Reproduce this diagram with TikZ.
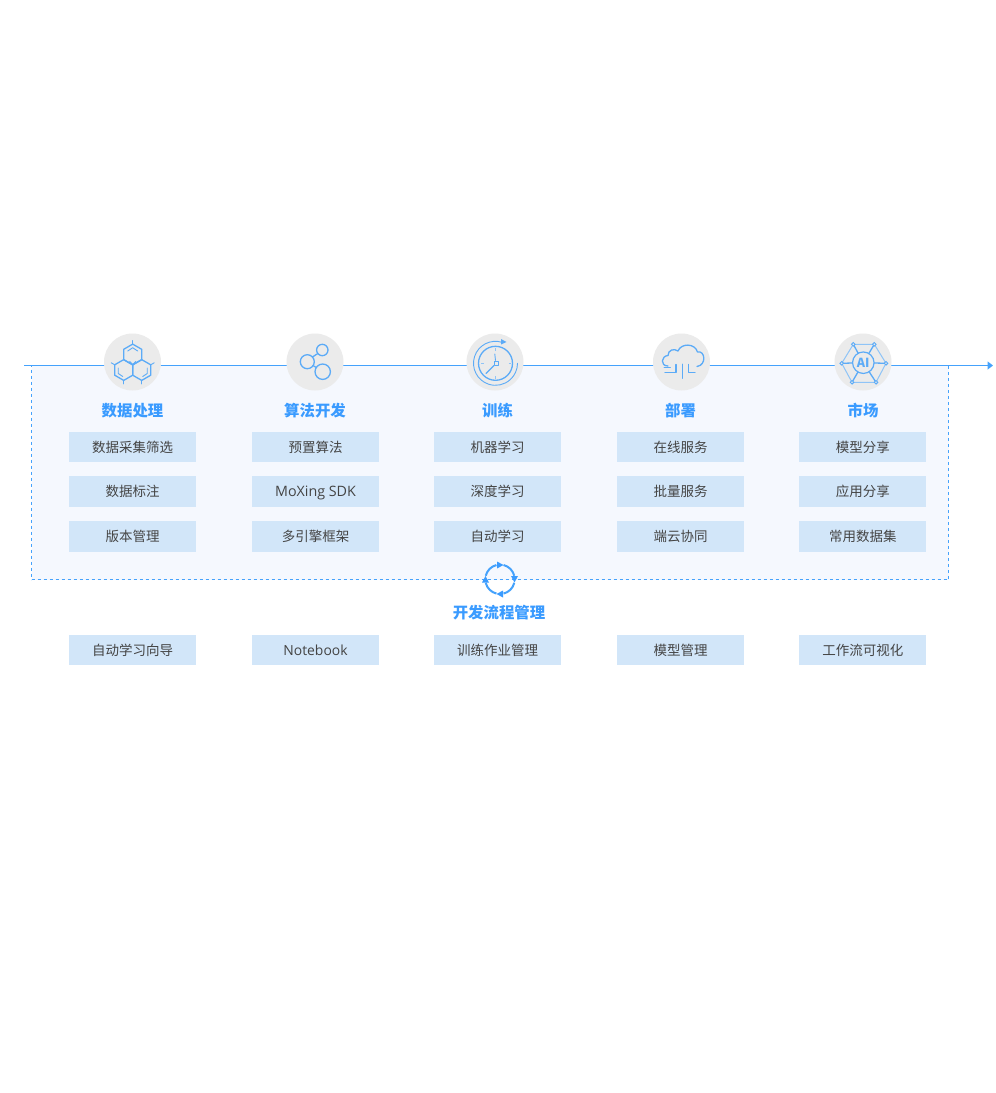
\documentclass[tikz,border=0pt]{standalone}
\usepackage{fontspec}
\setmainfont{Noto Sans CJK SC}
\newfontfamily\latinbox{Open Sans}
\usetikzlibrary{arrows.meta}
\definecolor{linec}{HTML}{45A2FC}
\definecolor{iconc}{HTML}{5CABF7}
\definecolor{iconl}{HTML}{8FC4F7}
\definecolor{titlec}{HTML}{3A9BFF}
\definecolor{boxc}{HTML}{D2E6F9}
\definecolor{panelc}{HTML}{F5F8FE}
\definecolor{circc}{HTML}{EBEBEB}
\definecolor{textc}{HTML}{444444}
\tikzset{
  itembox/.style={fill=boxc,minimum width=127pt,minimum height=30.5pt,inner sep=0pt,text=textc,font=\fontsize{13.5}{15}\selectfont},
  title/.style={text=titlec,inner sep=0pt,font=\fontsize{15.4}{17}\selectfont\bfseries},
  badge/.style={circle,fill=circc,minimum size=57pt,inner sep=0pt},
  icon/.style={draw=iconc,line width=1.3pt,line join=round,line cap=round},
  iconfine/.style={draw=iconc,line width=.9pt,line join=round,line cap=round},
  iconthin/.style={draw=iconl,line width=1pt},
  nodedot/.style={draw=iconc,fill=circc,line width=.9pt},
  cyc/.style={draw=linec,line width=2pt},
  cychead/.style={fill=titlec},
}
\begin{document}
\begin{tikzpicture}[x=1pt,y=-1pt]
\useasboundingbox (0,0) rectangle (996,1093);
\fill[white] (0,0) rectangle (996,1093);
% panel
\node[draw=linec,dashed,fill=panelc,line width=.7pt,minimum width=917pt,minimum height=214pt,inner sep=0pt] (panel) at (490,472.5) {};
% timeline
\coordinate (lineStart) at (24,365.5);
\coordinate (lineEnd) at (993,365.5);
\draw[linec,line width=1.3pt,-{Triangle[length=5.5pt,width=8pt]}] (lineStart) -- (lineEnd);
% badges
\node[badge] (b1) at (132.5,362) {};
\node[badge] (b2) at (315,362) {};
\node[badge] (b3) at (495,362) {};
\node[badge] (b4) at (681.5,362) {};
\node[badge] (b5) at (863,362) {};
% icon 1: hexagons
\begin{scope}[shift={(132.7,354.5)}]
  \draw[icon] (0,-10.4) -- (9,-5.2) -- (9,5.2) -- (0,10.4) -- (-9,5.2) -- (-9,-5.2) -- cycle;
  \draw[iconfine] (-5,-3.5) -- (0,-6.8) -- (5,-3.5);
  \draw[iconfine] (0,-10.4) -- (0,-14);
  \draw[iconfine] (-3,7) -- (0,10) -- (3,7) (0,10) -- (0,14);
\end{scope}
\begin{scope}[shift={(123.7,370)}]
  \draw[icon] (0,-10.4) -- (9,-5.2) -- (9,5.2) -- (0,10.4) -- (-9,5.2) -- (-9,-5.2) -- cycle;
  \draw[iconfine] (-5.5,-2) -- (-5.5,3.5) -- (-1,6.5);
  \draw[iconfine] (-9,-5.2) -- (-12.5,-7.2);
  \draw[iconfine] (0,10.4) -- (0,14);
\end{scope}
\begin{scope}[shift={(141.7,370)}]
  \draw[icon] (0,-10.4) -- (9,-5.2) -- (9,5.2) -- (0,10.4) -- (-9,5.2) -- (-9,-5.2) -- cycle;
  \draw[iconfine] (5.5,-2) -- (5.5,3.5) -- (1,6.5);
  \draw[iconfine] (9,-5.2) -- (12.5,-7.2);
  \draw[iconfine] (0,10.4) -- (0,14);
\end{scope}
% icon 2: share
\draw[icon] (322.3,350) circle (5.7);
\draw[icon] (307.3,361.7) circle (7);
\draw[icon] (322.7,371.7) circle (7.7);
\draw[icon] (312.5,357) -- (317.8,353.5);
\draw[icon] (313,365.5) -- (316.3,367.5);
% icon 3: clock
\draw[icon] (495.5,363.3) circle (17);
\draw[iconfine] (495.5,363.3) ++(-72:22) arc[start angle=-72,end angle=-360,radius=22];
\fill[iconc] (506.5,342) -- (501,339) -- (501,344.5) -- cycle;
\draw[iconfine] (495.5,360.5) -- (494.8,354);
\draw[icon] (494,365.5) -- (486,373.5);
\draw[iconfine,fill=circc] (494,361.5) rectangle (498,365.5);
\draw[iconthin] (495.5,348) -- (495.5,350.5) (495.5,376) -- (495.5,378.5) (481,363.3) -- (483.5,363.3) (508.5,363.3) -- (511,363.3);
% icon 4: cloud
\draw[icon] (668,366) .. controls (660,366) and (661,356) .. (668,355.5)
  .. controls (668,350) and (674,348) .. (678,351)
  .. controls (681,343) and (695,343) .. (697.5,352)
  .. controls (705,350) and (707,365) .. (697,366.5);
\draw[iconfine] (682.5,364) -- (682.5,378.5);
\draw[icon] (676,364.5) -- (676,372.5) -- (665,372.5);
\draw[iconfine] (670.5,367.5) -- (664,367.5);
\draw[icon] (688.5,364.5) -- (688.5,372.5) -- (695,372.5);
% icon 5: AI network
\coordinate (n1) at (853.3,344.3);
\coordinate (n2) at (874.3,344.3);
\coordinate (n3) at (886,363.3);
\coordinate (n4) at (876,382.3);
\coordinate (n5) at (852,382.3);
\coordinate (n6) at (841.7,363.3);
\draw[iconthin] (n1) -- (n2) -- (n3) -- (n4) -- (n5) -- (n6) -- cycle;
\draw[icon] (n1) -- (863.3,362.7) (n2) -- (863.3,362.7) (n3) -- (863.3,362.7) (n4) -- (863.3,362.7) (n5) -- (863.3,362.7) (n6) -- (863.3,362.7);
\foreach \n in {n1,n2,n3,n4,n5,n6} \draw[nodedot] (\n) circle (1.8);
\node[circle,draw=iconc,fill=circc,line width=1.2pt,minimum size=21.5pt,inner sep=0pt,text=iconc,font=\fontsize{12.5}{13}\selectfont\bfseries] (ai) at (863.3,362.7) {AI};
% titles
\node[title] (t1) at (132.5,410.3) {数据处理};
\node[title] (t2) at (315,410.3) {算法开发};
\node[title] (t3) at (497.5,410.3) {训练};
\node[title] (t4) at (680.5,410.3) {部署};
\node[title] (t5) at (863,410.3) {市场};
% row 1
\node[itembox] (r1a) at (132.5,447) {数据采集筛选};
\node[itembox] (r1b) at (315.5,447) {预置算法};
\node[itembox] (r1c) at (497.5,447) {机器学习};
\node[itembox] (r1d) at (680.5,447) {在线服务};
\node[itembox] (r1e) at (862.8,447) {模型分享};
% row 2
\node[itembox] (r2a) at (132.5,491.5) {数据标注};
\node[itembox,font=\latinbox\fontsize{14.3}{16}\selectfont] (r2b) at (315.5,491.5) {\raisebox{0pt}[\height][0pt]{MoXing SDK}};
\node[itembox] (r2c) at (497.5,491.5) {深度学习};
\node[itembox] (r2d) at (680.5,491.5) {批量服务};
\node[itembox] (r2e) at (862.8,491.5) {应用分享};
% row 3
\node[itembox] (r3a) at (132.5,536.5) {版本管理};
\node[itembox] (r3b) at (315.5,536.5) {多引擎框架};
\node[itembox] (r3c) at (497.5,536.5) {自动学习};
\node[itembox] (r3d) at (680.5,536.5) {端云协同};
\node[itembox] (r3e) at (862.8,536.5) {常用数据集};
% cycle icon
\draw[cyc] (500,579.3) ++(-76:14.7) arc[start angle=-76,end angle=-14,radius=14.7];
\draw[cyc] (500,579.3) ++(14:14.7) arc[start angle=14,end angle=76,radius=14.7];
\draw[cyc] (500,579.3) ++(104:14.7) arc[start angle=104,end angle=166,radius=14.7];
\draw[cyc] (500,579.3) ++(194:14.7) arc[start angle=194,end angle=256,radius=14.7];
\fill[cychead] (503.5,565) -- (497,561.5) -- (497,568.5) -- cycle;
\fill[cychead] (514.5,582.5) -- (511,576) -- (518,576) -- cycle;
\fill[cychead] (496.5,594) -- (503,590.5) -- (503,597.5) -- cycle;
\fill[cychead] (485.5,576) -- (482,582.5) -- (489,582.5) -- cycle;
\node[title] (t6) at (499,612.4) {开发流程管理};
% row 4
\node[itembox] (r4a) at (132.5,650) {自动学习向导};
\node[itembox,font=\latinbox\fontsize{13.9}{16}\selectfont] (r4b) at (315.5,650) {Notebook};
\node[itembox] (r4c) at (497.5,650) {训练作业管理};
\node[itembox] (r4d) at (680.5,650) {模型管理};
\node[itembox] (r4e) at (862.8,650) {工作流可视化};
\end{tikzpicture}
\end{document}
